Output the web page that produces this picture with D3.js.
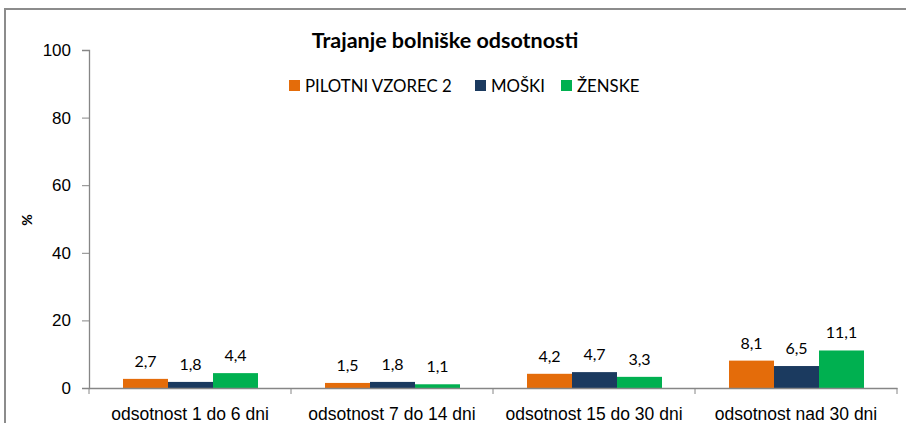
<!DOCTYPE html>
<html>
<head>
<meta charset="utf-8">
<script src="https://cdn.jsdelivr.net/npm/d3@7"></script>
<style>
  html, body { margin: 0; padding: 0; background: #fff; }
  svg { display: block; font-family: Lato, "Noto Sans", sans-serif; }
</style>
</head>
<body>
<svg id="chart" width="906" height="423"></svg>
<script>
// Trajanje bolniške odsotnosti
const categories = ['odsotnost 1 do 6 dni', 'odsotnost 7 do 14 dni', 'odsotnost 15 do 30 dni', 'odsotnost nad 30 dni'];
const seriesNames = ['PILOTNI VZOREC 2', 'MOŠKI', 'ŽENSKE'];
const pilotni = [2.7, 1.5, 4.2, 8.1];
const moski = [1.8, 1.8, 4.7, 6.5];
const zenske = [4.4, 1.1, 3.3, 11.1];
const yTicks = [0, 20, 40, 60, 80, 100];
const colors = ['#E46C0A', '#1B3A5F', '#00B050'];

const seriesValues = [pilotni, moski, zenske];
const data = categories.map((c, i) => ({
  cat: c,
  vals: seriesNames.map((s, j) => ({ key: s, value: seriesValues[j][i], idx: j }))
}));

const svg = d3.select('#chart');
const margin = { top: 50, left: 89, right: 9, bottom: 35 };
const width = 906 - margin.left - margin.right;
const height = 423 - margin.top - margin.bottom;

// Okvir
svg.append('path')
  .attr('d', 'M5,423 L5,9 L906,9')
  .attr('fill', 'none')
  .attr('stroke', '#8c8c8c')
  .attr('stroke-width', 2);

const g = svg.append('g')
  .attr('transform', `translate(${margin.left},${margin.top})`);

const x0 = d3.scaleBand().domain(categories).range([0, width]).paddingInner(0).paddingOuter(0);
const x1 = d3.scaleBand().domain(seriesNames).range([34, x0.bandwidth() - 33]).padding(0);
const y = d3.scaleLinear().domain([0, 100]).range([height, 0]);

// Eje Y
const yAxis = g.append('g')
  .call(d3.axisLeft(y).tickValues(yTicks).tickSize(7).tickPadding(11).tickFormat(d3.format('d')));
yAxis.select('.domain').attr('stroke', '#868686').attr('stroke-width', 1.3);
yAxis.selectAll('.tick line').attr('stroke', '#868686');
yAxis.selectAll('text').style('font-size', '17px').style('fill', '#000');

// Barras
const groups = g.selectAll('.grp')
  .data(data)
  .enter()
  .append('g')
  .attr('transform', d => `translate(${x0(d.cat)},0)`);

groups.selectAll('rect')
  .data(d => d.vals)
  .enter()
  .append('rect')
  .attr('x', d => x1(d.key))
  .attr('y', d => y(d.value))
  .attr('width', x1.bandwidth())
  .attr('height', d => height - y(d.value))
  .attr('fill', d => colors[d.idx]);

groups.selectAll('.lbl')
  .data(d => d.vals)
  .enter()
  .append('text')
  .attr('x', d => x1(d.key) + x1.bandwidth() / 2)
  .attr('y', d => y(d.value) - 12)
  .attr('text-anchor', 'middle')
  .style('font-size', '16px')
  .style('fill', '#000')
  .text(d => d3.format('.1f')(d.value).replace('.', ','));

// Eje X
const xAxis = g.append('g')
  .attr('transform', `translate(0,${height})`)
  .call(d3.axisBottom(x0).tickSize(0).tickPadding(20));
xAxis.select('.domain').attr('stroke', '#868686').attr('stroke-width', 1.3);
xAxis.selectAll('text').style('font-size', '17.5px').style('fill', '#000');
xAxis.selectAll('.sep')
  .data(categories.concat(['end']))
  .enter()
  .append('line')
  .attr('x1', (d, i) => i * x0.bandwidth())
  .attr('x2', (d, i) => i * x0.bandwidth())
  .attr('y1', 0)
  .attr('y2', 6)
  .attr('stroke', '#868686');

// Etiqueta Y
svg.append('text')
  .attr('transform', 'rotate(-90)')
  .attr('x', -220)
  .attr('y', 32)
  .attr('text-anchor', 'middle')
  .style('font-size', '14px')
  .style('font-weight', 'bold')
  .text('%');

// Título
svg.append('text')
  .attr('x', 445)
  .attr('y', 48)
  .attr('text-anchor', 'middle')
  .style('font-size', '21.5px')
  .style('font-weight', 'bold')
  .text('Trajanje bolniške odsotnosti');

// Leyenda
const legendPos = [289, 475, 561];
const legend = svg.selectAll('.leg')
  .data(seriesNames)
  .enter()
  .append('g')
  .attr('transform', (d, i) => `translate(${legendPos[i]},80)`);
legend.append('rect').attr('width', 11).attr('height', 11).attr('fill', (d, i) => colors[i]);
legend.append('text')
  .attr('x', 16)
  .attr('y', 11.5)
  .style('font-size', '16.8px')
  .text(d => d);
</script>
</body>
</html>
